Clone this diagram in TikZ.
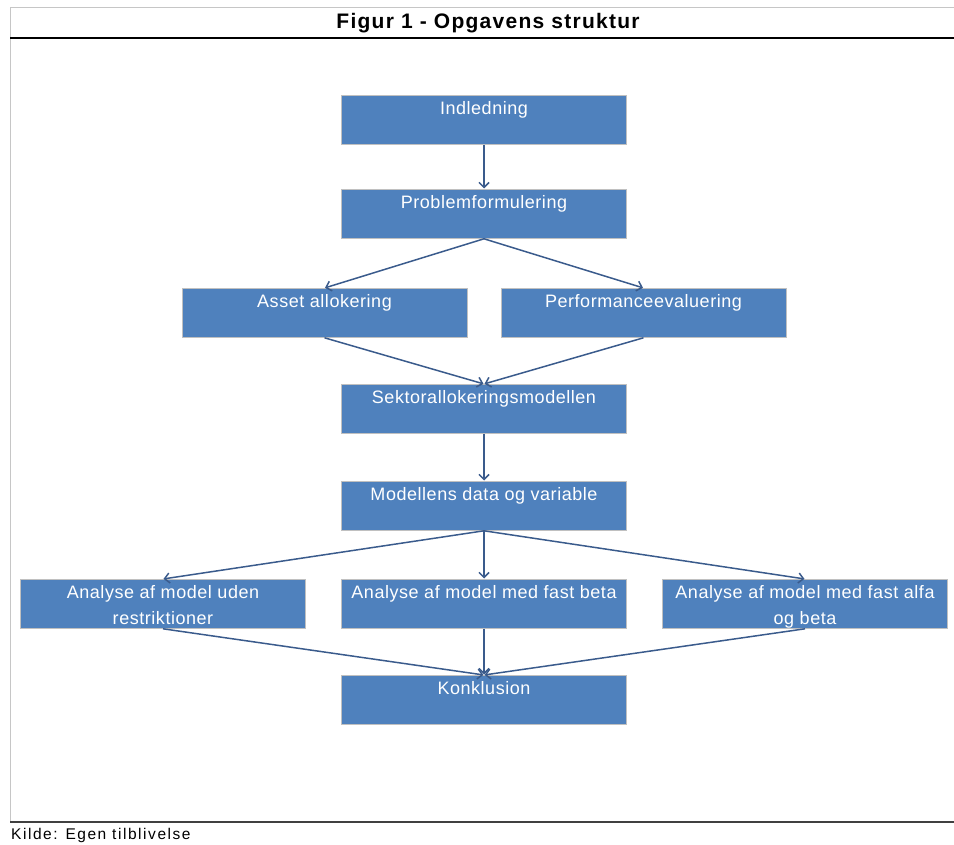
\documentclass[tikz,border=0pt]{standalone}
\usepackage{fontspec}
\setmainfont{Liberation Sans}
\usepackage{tikz}
\usetikzlibrary{
    arrows,
    arrows.meta,
    shapes,
    calc,
    positioning,
}
\definecolor{boxblue}{HTML}{4F81BD}
\definecolor{boxrim}{HTML}{C0C0C0}
\definecolor{flowblue}{HTML}{3A5B8C}

\begin{document}
\begin{tikzpicture}[x=1pt,y=-1pt,>={Straight Barb[length=5pt,width=10pt]}]

    \tikzstyle{commonNode}=[font=\fontsize{18}{26}\selectfont\addfontfeatures{LetterSpace=3}, align=center, text=white]
    \tikzstyle{stepbox}=[commonNode, rectangle, fill=boxblue, draw=boxrim, line width=0.8pt, anchor=north, minimum width=285, inner xsep=0pt, inner ysep=2.5pt, text height=17pt, text depth=27pt]
    \tikzstyle{twostepbox}=[stepbox, text height=43pt, text depth=1pt]
    \tikzstyle{flow}=[->, draw=flowblue, line width=1.5pt, shorten >=0.5pt]

    \useasboundingbox (0,0) rectangle (954,845);

    % Spacing the nodes out
    \def \mid {484}
    \def \hshift {159.5}
    \def \wshift {321}

    % Frame
    \draw [gray!45, line width=1pt] (10,822) -- (10,8) -- (954,8);
    \draw [black, line width=2pt] (10,38) -- (954,38);
    \draw [black!75, line width=2.5pt] (10,822) -- (954,822);

    % Title
    \node at (488,23) (title) {\fontsize{21}{23}\selectfont\bfseries\addfontfeatures{LetterSpace=6}Figur 1 - Opgavens struktur};

    % Boxes
    \node at (\mid, 95)  [stepbox] (ind)   {Indledning};
    \node at (\mid, 189) [stepbox] (pf)    {Problemformulering};
    \node at (\mid-\hshift, 288) [stepbox] (asset) {Asset allokering};
    \node at (\mid+\hshift, 288) [stepbox] (perf)  {Performanceevaluering};
    \node at (\mid, 384) [stepbox] (sektor) {Sektorallokeringsmodellen};
    \node at (\mid, 481) [stepbox] (data)  {Modellens data og variable};
    \node at (\mid-\wshift, 579) [twostepbox] (uden)  {Analyse af model uden\\restriktioner};
    \node at (\mid, 579) [stepbox] (beta)  {Analyse af model med fast beta};
    \node at (\mid+\wshift, 579) [twostepbox] (alfa)  {Analyse af model med fast alfa\\og beta};
    \node at (\mid, 675) [stepbox] (konk)  {Konklusion};

    % Connectors
    \path (ind.south)    edge [flow] (pf.north);
    \path (pf.south)     edge [flow] (asset.north)
                         edge [flow] (perf.north);
    \path (asset.south)  edge [flow] (sektor.north);
    \path (perf.south)   edge [flow] (sektor.north);
    \path (sektor.south) edge [flow] (data.north);
    \path (data.south)   edge [flow] (uden.north)
                         edge [flow] (beta.north)
                         edge [flow] (alfa.north);
    \path (uden.south)   edge [flow] (konk.north);
    \path (beta.south)   edge [flow] (konk.north);
    \path (alfa.south)   edge [flow] (konk.north);

    % Source
    \node at (10,835) [anchor=west, inner xsep=1pt] (kilde) {\fontsize{15.5}{17}\selectfont\addfontfeatures{LetterSpace=10}Kilde: Egen tilblivelse};

\end{tikzpicture}
\end{document}
